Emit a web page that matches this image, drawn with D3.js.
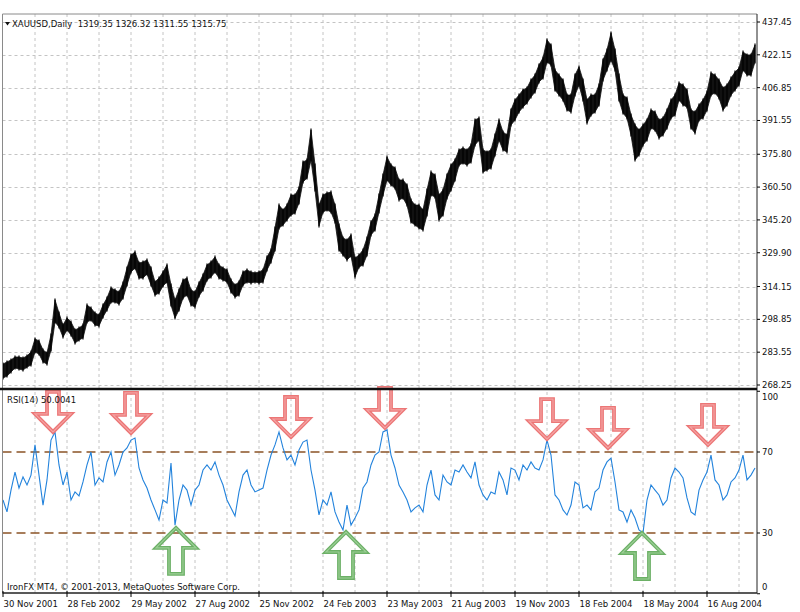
<!DOCTYPE html>
<html><head><meta charset="utf-8">
<script src="https://cdn.jsdelivr.net/npm/d3@7/dist/d3.min.js"></script>
<style>html,body{margin:0;padding:0;background:#fff;}svg{display:block;}</style>
</head><body>
<script>
// ---------- DATA (one sample = 4 trading days) ----------
const priceHigh = [
278.0,279.0,279.9,281.3,281.3,280.8,281.8,283.6,289.7,288.8,
284.6,283.2,291.6,307.9,301.8,296.2,299.5,297.6,293.9,294.8,
296.2,305.5,304.1,301.8,300.9,305.5,308.8,313.5,312.5,311.6,
315.8,322.8,328.8,330.2,325.1,325.6,326.5,322.8,316.3,318.1,
320.9,324.2,314.9,307.9,312.5,317.2,318.1,312.5,311.6,315.8,
319.5,324.2,325.6,327.9,324.2,322.8,321.9,317.2,314.9,316.3,
320.9,321.9,320.9,320.5,320.9,321.9,327.9,331.2,341.4,352.1,
349.8,352.1,356.8,356.8,360.1,372.2,373.1,387.1,370.8,352.1,
356.8,357.7,358.2,352.1,342.8,336.8,335.8,338.2,327.4,328.8,
331.2,336.8,344.2,347.5,356.8,366.1,374.5,370.8,369.4,363.8,
363.8,361.5,354.5,352.1,352.1,349.8,359.1,367.5,366.1,356.8,
359.1,366.1,370.8,373.1,377.8,378.7,377.8,380.1,391.8,392.7,
377.8,376.9,377.8,384.8,391.8,386.2,384.8,396.4,401.1,403.4,
405.8,406.7,410.4,412.7,417.4,420.7,429.1,426.7,415.1,412.7,
410.4,403.4,403.4,412.7,416.5,410.4,401.1,403.4,403.4,408.1,
419.7,424.4,432.3,424.4,412.7,403.4,402.0,394.1,389.4,387.1,
389.4,391.8,396.4,395.5,391.8,392.7,396.4,401.1,403.4,409.0,
408.1,405.7,396.4,395.5,398.8,401.1,404.8,413.7,412.7,410.4,
406.7,408.1,411.3,414.1,416.0,423.5,422.1,422.1,426.7];
const priceLow = [
271.5,272.4,274.3,276.2,275.7,275.2,276.6,277.6,283.6,282.7,
279.0,278.0,284.6,297.6,295.3,290.6,293.9,291.6,287.8,289.2,
290.2,297.6,298.5,296.2,295.8,300.0,303.2,306.9,306.9,306.0,
308.8,314.9,320.9,322.8,318.1,318.1,320.0,314.9,310.2,311.1,
314.4,316.3,305.5,299.5,303.2,308.8,310.2,305.5,304.6,309.7,
312.5,317.2,318.6,320.9,318.1,317.2,316.3,311.6,309.3,310.2,
314.9,316.3,315.8,316.3,315.8,316.3,321.9,325.6,331.2,341.4,
342.8,345.2,347.5,348.4,353.1,362.9,364.7,373.1,359.1,342.4,
348.9,349.8,348.9,344.2,331.2,328.8,326.5,328.4,318.6,323.3,
324.2,328.8,338.2,340.5,348.9,356.8,363.8,361.5,360.1,354.5,
355.4,352.1,344.2,342.8,341.4,340.5,347.5,356.8,355.9,345.2,
347.5,355.4,359.1,363.8,370.8,371.7,370.8,372.2,380.1,382.4,
367.5,368.5,369.4,375.5,382.4,377.8,376.9,389.4,391.8,395.5,
397.8,399.7,402.5,404.8,409.5,411.3,418.8,417.4,405.7,403.4,
401.1,396.4,395.5,403.4,408.1,401.1,390.4,394.1,395.5,398.8,
410.4,415.1,419.7,415.1,401.1,395.0,392.7,384.8,373.1,375.5,
380.1,382.4,388.0,387.1,383.4,384.8,388.0,392.7,394.1,401.1,
398.8,397.8,388.0,385.7,391.8,392.7,396.4,403.4,404.4,402.0,
396.4,398.8,403.4,405.7,408.1,415.1,412.7,412.7,418.8];
const rsiValues = [
46.3,40.4,51.2,60.1,52.2,57.7,53.7,58.6,73.5,58.6,
43.8,56.2,75.9,79.9,63.6,53.7,60.1,46.3,50.3,48.3,
55.2,63.6,70.0,53.7,57.2,55.2,65.1,70.0,58.6,63.6,
70.0,72.0,75.9,76.9,62.1,56.2,52.2,46.3,41.4,36.4,
46.3,44.8,64.6,33.9,46.3,53.7,51.2,43.8,51.2,53.7,
61.1,63.6,61.1,65.1,58.6,53.7,46.3,42.4,38.4,50.3,
58.6,61.1,53.7,50.3,51.2,52.2,61.1,68.5,73.5,79.9,
72.0,66.1,68.5,63.6,71.0,74.9,75.9,61.1,51.2,38.9,
46.3,43.8,50.3,40.4,35.4,31.5,43.8,33.9,37.4,41.4,
52.2,55.2,63.6,68.5,70.0,79.9,80.9,68.5,62.1,53.7,
50.3,46.3,40.4,42.4,43.8,40.4,53.7,61.1,48.8,46.3,
58.6,55.2,53.7,61.1,60.1,63.6,60.1,57.2,65.1,53.7,
48.8,46.3,50.3,49.3,60.1,56.2,48.8,62.1,61.1,56.2,
63.6,61.1,65.1,62.1,61.1,66.1,75.9,68.5,48.8,46.3,
41.4,38.9,43.8,55.2,53.7,42.4,43.8,41.4,50.3,52.2,
61.1,65.1,67.0,55.2,41.4,40.4,35.4,41.4,37.4,31.5,
30.0,46.3,53.7,51.2,48.8,43.8,46.3,57.2,62.1,60.1,
57.2,47.3,40.4,38.9,51.2,56.2,60.1,68.5,56.2,53.7,
46.3,48.8,55.2,57.2,61.1,68.5,56.2,58.6,62.1];
const priceTickLabels = ["437.45","422.15","406.85","391.55","375.80","360.50","345.20","329.90","314.15","298.85","283.55","268.25"];
const rsiTickLabels = ["100","70","30","0"];
const rsiLevels = [70, 30];
const dateLabels = ["30 Nov 2001","28 Feb 2002","29 May 2002","27 Aug 2002","25 Nov 2002","24 Feb 2003","23 May 2003","21 Aug 2003","19 Nov 2003","18 Feb 2004","18 May 2004","16 Aug 2004"];
const dateIndex = [0,16,32,48,64,80,96,112,128,144,160,176];
const sellIndex = [12.5, 32, 72, 95.5, 136, 151.25, 176.25];
const sellRsi   = [79.9, 79.4, 77.4, 81.9, 76.4, 72.0, 73.5];
const buyIndex  = [43.25, 85.75, 159.75];
const buyRsi    = [32.5, 30.5, 30.0];
const headerText = "XAUUSD,Daily  1319.35 1326.32 1311.55 1315.75";
const rsiLabel = "RSI(14) 50.0041";
const copyright = "IronFX MT4, \u00A9 2001-2013, MetaQuotes Software Corp.";

// ---------- LAYOUT ----------
const W = 800, H = 612;
const L = 2.5, R = 757, T = 14, SEP = 389, B = 593;
const FONT = "DejaVu Sans";
const FS = 8.5;

const svg = d3.select("body").append("svg").attr("width", W).attr("height", H)
  .style("font-family", FONT).style("font-size", FS + "px");
svg.append("rect").attr("width", W).attr("height", H).attr("fill", "#ffffff");

const N = priceHigh.length;
const x = d3.scaleLinear().domain([0, N - 1]).range([3, 755]);
const yP = d3.scaleLinear().domain([268.25, 437.45]).range([385, 22]);
const yR = d3.scaleLinear().domain([0, 100]).range([593.75, 391.25]);

// vertical grid every 8 samples
const gridIdx = d3.range(8, N + 1, 8);
svg.append("g").selectAll("line").data(gridIdx).join("line")
  .attr("x1", d => x(d)).attr("x2", d => x(d)).attr("y1", T).attr("y2", B)
  .attr("stroke", "#c4c4c4").attr("stroke-dasharray", "3,3").attr("stroke-width", 1);
// horizontal grid (price)
svg.append("g").selectAll("line").data(priceTickLabels).join("line")
  .attr("x1", L).attr("x2", R).attr("y1", d => Math.round(yP(+d)) + 0.5).attr("y2", d => Math.round(yP(+d)) + 0.5)
  .attr("stroke", "#c4c4c4").attr("stroke-dasharray", "3,3").attr("stroke-width", 1);

// RSI level lines
svg.append("g").selectAll("line").data(rsiLevels).join("line")
  .attr("x1", L).attr("x2", R).attr("y1", d => yR(d)).attr("y2", d => yR(d))
  .attr("stroke", "#8a5326").attr("stroke-dasharray", "9,5").attr("stroke-width", 1.4);

// price bars: high-low band plus one bar per sample
const idx = d3.range(N);
const area = d3.area().x(i => x(i)).y0(i => yP(priceLow[i])).y1(i => yP(priceHigh[i]));
svg.append("path").datum(idx).attr("d", area).attr("fill", "#111").attr("stroke", "#111").attr("stroke-width", 0.8);
svg.append("g").selectAll("line").data(idx).join("line")
  .attr("x1", i => x(i)).attr("x2", i => x(i))
  .attr("y1", i => yP(priceHigh[i]) - 1.5).attr("y2", i => yP(priceLow[i]) + 1.5)
  .attr("stroke", "#000").attr("stroke-width", 1.2);

// RSI line
const line = d3.line().x(i => x(i)).y(i => yR(rsiValues[i]));
svg.append("path").datum(idx).attr("d", line).attr("fill", "none")
  .attr("stroke", "#2383dc").attr("stroke-width", 1.1);

// arrows
function arrowPts(tx, ty, dir, len, hh, hw, sw) {
  // dir -1: down arrow (body above tip); +1: up arrow (body below tip)
  const s = -dir;
  return [
    [tx - sw, ty - s * len], [tx + sw, ty - s * len],
    [tx + sw, ty - s * hh], [tx + hw, ty - s * hh],
    [tx, ty], [tx - hw, ty - s * hh], [tx - sw, ty - s * hh]
  ];
}
const sells = sellIndex.map((d, i) => ({ i: d, v: sellRsi[i] }));
const buys = buyIndex.map((d, i) => ({ i: d, v: buyRsi[i] }));
function drawArrows(data, dir, len, hh, hw, sw, outer, inner) {
  const g = svg.append("g");
  const pts = d => arrowPts(x(d.i), yR(d.v), dir, len, hh, hw, sw).map(p => p.join(",")).join(" ");
  g.selectAll("polygon.o").data(data).join("polygon").attr("class", "o")
    .attr("points", pts).attr("fill", "none").attr("stroke", outer).attr("stroke-width", 3.8);
  g.selectAll("polygon.i").data(data).join("polygon").attr("class", "i")
    .attr("points", pts).attr("fill", "none").attr("stroke", inner).attr("stroke-width", 1.2);
}
drawArrows(sells, -1, 40, 18, 18, 6, "#ec7676", "#f4a3a3");
drawArrows(buys, 1, 46, 20, 20, 7, "#6cb066", "#9ccf96");

// borders
svg.append("line").attr("x1", L).attr("x2", R).attr("y1", T).attr("y2", T).attr("stroke", "#8a8a8a");
svg.append("line").attr("x1", L).attr("x2", L).attr("y1", T).attr("y2", B).attr("stroke", "#8a8a8a");
svg.append("line").attr("x1", R).attr("x2", R).attr("y1", T).attr("y2", B).attr("stroke", "#222");
svg.append("line").attr("x1", 0).attr("x2", R).attr("y1", SEP).attr("y2", SEP).attr("stroke", "#111").attr("stroke-width", 2.6);
svg.append("line").attr("x1", L).attr("x2", R).attr("y1", B).attr("y2", B).attr("stroke", "#222").attr("stroke-width", 1.3);

// price axis
const pa = svg.append("g");
pa.selectAll("line").data(priceTickLabels).join("line")
  .attr("x1", R).attr("x2", R + 3).attr("y1", d => yP(+d)).attr("y2", d => yP(+d)).attr("stroke", "#000");
pa.selectAll("text").data(priceTickLabels).join("text")
  .attr("x", R + 5).attr("y", d => yP(+d) + 3).text(d => d).attr("fill", "#111");

// rsi axis
const ra = svg.append("g");
ra.selectAll("line").data(rsiTickLabels).join("line")
  .attr("x1", R).attr("x2", R + 3).attr("y1", d => yR(+d)).attr("y2", d => yR(+d)).attr("stroke", "#000");
ra.selectAll("text").data(rsiTickLabels).join("text")
  .attr("x", R + 5)
  .attr("y", d => Math.min(Math.max(yR(+d), 397), 587) + 3)
  .text(d => d).attr("fill", "#111");

// date axis
const da = svg.append("g");
da.selectAll("line").data(dateIndex).join("line")
  .attr("x1", d => x(d)).attr("x2", d => x(d)).attr("y1", B - 2).attr("y2", B + 4).attr("stroke", "#000");
da.selectAll("text").data(dateLabels).join("text")
  .attr("x", (d, i) => x(dateIndex[i]) + 0.5).attr("y", 607).text(d => d).attr("fill", "#111");

// texts
svg.append("path").attr("d", "M5,22 L10,22 L7.5,25.5 Z").attr("fill", "#111");
svg.append("text").attr("x", 12).attr("y", 27).text(headerText).attr("fill", "#111").attr("xml:space", "preserve").style("white-space", "pre");
svg.append("text").attr("x", 7).attr("y", 403).text(rsiLabel).attr("fill", "#111");
svg.append("text").attr("x", 7).attr("y", 590).text(copyright).attr("fill", "#111");
</script>
</body></html>
